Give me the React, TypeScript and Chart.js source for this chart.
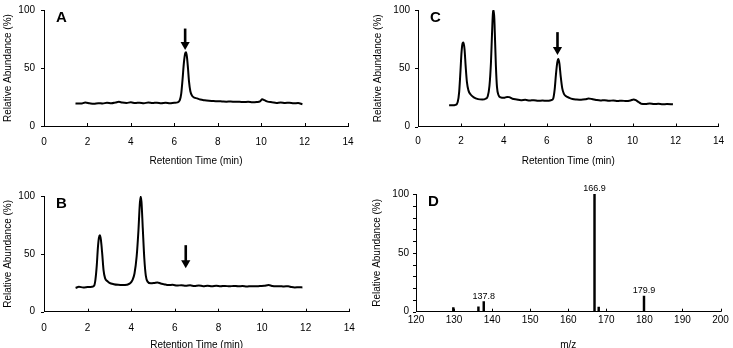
import React, { useEffect, useRef } from "react";
import { Chart, registerables } from "chart.js";

Chart.register(...registerables);

const FONT = "'Liberation Sans', Arial, Helvetica, sans-serif";

// ---- Chromatogram A ----
const timeA = [1.45, 1.7, 1.9, 2.1, 2.3, 2.5, 2.7, 2.9, 3.1, 3.3, 3.45, 3.6, 3.8, 4.0, 4.2, 4.4, 4.6, 4.8, 5.0, 5.2, 5.4, 5.6, 5.8, 6.0, 6.15, 6.25, 6.32, 6.38, 6.44, 6.5, 6.54, 6.58, 6.63, 6.68, 6.74, 6.82, 6.92, 7.05, 7.2, 7.4, 7.6, 7.8, 8.0, 8.2, 8.4, 8.6, 8.8, 9.0, 9.2, 9.4, 9.6, 9.8, 9.95, 10.05, 10.15, 10.3, 10.5, 10.7, 10.9, 11.1, 11.3, 11.5, 11.7, 11.9];
const abundA = [19.5, 19.3, 20.2, 19.6, 19.2, 19.7, 19.4, 20.0, 19.6, 20.3, 20.8, 20.2, 19.9, 20.4, 19.8, 20.1, 19.7, 20.2, 19.8, 20.1, 19.7, 20.0, 19.6, 20.1, 20.4, 22, 28, 40, 54, 62.5, 63.5, 60, 50, 38, 30, 26, 24.5, 23.8, 22.8, 22.2, 21.8, 21.5, 21.4, 21.2, 21.0, 21.1, 20.8, 20.9, 20.6, 20.8, 20.4, 20.7, 21.3, 23, 22.3, 21, 20.5, 19.8, 20.3, 19.9, 20.1, 19.6, 19.8, 18.8];

// ---- Chromatogram B ----
const timeB = [1.45, 1.6, 1.8, 2.0, 2.2, 2.3, 2.36, 2.42, 2.47, 2.52, 2.56, 2.61, 2.67, 2.73, 2.8, 2.9, 3.0, 3.2, 3.4, 3.6, 3.8, 3.95, 4.05, 4.15, 4.25, 4.33, 4.39, 4.43, 4.47, 4.53, 4.6, 4.67, 4.75, 4.9, 5.05, 5.2, 5.35, 5.5, 5.7, 5.9, 6.1, 6.3, 6.5, 6.7, 6.9, 7.1, 7.3, 7.5, 7.7, 7.9, 8.1, 8.3, 8.5, 8.7, 8.9, 9.1, 9.3, 9.5, 9.7, 9.9, 10.1, 10.3, 10.45, 10.6, 10.8, 11.0, 11.2, 11.35, 11.5, 11.7, 11.85];
const abundB = [20.5, 21.5, 21.0, 21.3, 21.6, 22.5, 28, 40, 55, 64, 66, 62, 50, 36, 29, 26.5, 25, 23.8, 23.2, 23.0, 23.3, 24.5, 27, 33, 48, 70, 92, 99.5, 95, 72, 46, 31, 26, 24.5, 24.8, 25.3, 24.4, 23.8, 23.0, 23.2, 22.6, 22.9, 22.4, 22.8, 22.2, 22.6, 22.1, 22.5, 22.0, 22.4, 22.0, 22.3, 21.9, 22.3, 22.0, 22.2, 21.8, 22.1, 21.9, 22.2, 22.4, 23.0, 22.3, 21.9, 22.1, 21.8, 22.0, 21.3, 21.0, 21.2, 21.0];

// ---- Chromatogram C ----
const timeC = [1.45, 1.6, 1.75, 1.85, 1.92, 1.98, 2.03, 2.08, 2.12, 2.17, 2.22, 2.28, 2.35, 2.45, 2.6, 2.8, 3.0, 3.15, 3.25, 3.33, 3.4, 3.45, 3.5, 3.54, 3.58, 3.63, 3.68, 3.75, 3.85, 4.0, 4.15, 4.25, 4.4, 4.6, 4.8, 5.0, 5.2, 5.4, 5.6, 5.8, 6.0, 6.2, 6.3, 6.37, 6.43, 6.49, 6.54, 6.59, 6.65, 6.72, 6.8, 6.9, 7.05, 7.2, 7.4, 7.6, 7.8, 7.95, 8.1, 8.3, 8.5, 8.7, 8.9, 9.1, 9.3, 9.5, 9.7, 9.9, 10.05, 10.15, 10.28, 10.4, 10.6, 10.8, 11.0, 11.2, 11.4, 11.6, 11.88];
const abundC = [18.3, 18.2, 18.6, 21, 30, 48, 64, 71.5, 72, 66, 52, 38, 31, 27.5, 25, 23.5, 23.2, 23.8, 26, 35, 55, 80, 99, 99.5, 80, 52, 34, 27, 25, 24.6, 25.4, 25.2, 23.8, 23.2, 22.6, 22.9, 22.3, 22.6, 22.0, 22.3, 22.1, 22.6, 24, 32, 45, 55, 58, 54, 43, 33, 28, 26, 24.6, 23.6, 23.2, 23.0, 23.4, 24.0, 23.6, 22.8, 22.3, 22.6, 22.0, 22.4, 21.9, 22.2, 21.8, 22.3, 23.2, 22.6, 21, 19.6, 19.4, 19.7, 19.3, 19.5, 19.1, 19.3, 19.0];

// ---- Mass spectrum D ----
const mzD = [129.8, 136.4, 137.8, 166.9, 168.0, 179.9];
const intensityD = [3.5, 4.2, 8.5, 100, 4, 13.2];
const labelledMzD = [137.8, 166.9, 179.9];

// ---- Arrows marking the analyte peak (time, top, tip) ----
const arrowTime = 6.5;
const arrowA = [84, 65.5];
const arrowB = [57.5, 37.5];
const arrowC = [81, 61.4];

const timeTicks = { min: 0, max: 14, step: 2 };
const mzTicks = { min: 120, max: 200, step: 10 };

type Frame = {
  yWidth: number;
  xHeight: number;
  padTop: number;
  padRight: number;
  xLabelPad: number;
  xTitlePad: number;
  yLabelPad: number;
  yTitlePad: number;
};

const tickMarks = {
  id: "tickMarks",
  afterDraw(chart: any) {
    const { ctx } = chart;
    const x = chart.scales.x;
    const y = chart.scales.y;
    ctx.save();
    ctx.strokeStyle = "#000";
    ctx.lineWidth = 1;
    ctx.beginPath();
    for (const t of x.ticks) {
      const px = Math.round(x.getPixelForValue(t.value)) + 0.5;
      ctx.moveTo(px, y.bottom);
      ctx.lineTo(px, y.bottom - 3);
    }
    for (const t of y.ticks) {
      const py = Math.round(y.getPixelForValue(t.value)) + 0.5;
      ctx.moveTo(x.left, py);
      ctx.lineTo(x.left - 3, py);
    }
    ctx.stroke();
    ctx.restore();
  },
};

function letterPlugin(letter: string) {
  return {
    id: "panelLetter",
    afterDraw(chart: any) {
      const { ctx, chartArea } = chart;
      ctx.save();
      ctx.fillStyle = "#000";
      ctx.font = `bold 15px ${FONT}`;
      ctx.textAlign = "left";
      ctx.textBaseline = "alphabetic";
      ctx.fillText(letter, chartArea.left + 12, chartArea.top + 12);
      ctx.restore();
    },
  };
}

function arrowPlugin(time: number, span: number[]) {
  return {
    id: "peakArrow",
    afterDraw(chart: any) {
      const { ctx } = chart;
      const x = chart.scales.x.getPixelForValue(time);
      const yTop = chart.scales.y.getPixelForValue(span[0]);
      const yTip = chart.scales.y.getPixelForValue(span[1]);
      const head = 8;
      ctx.save();
      ctx.fillStyle = "#000";
      ctx.fillRect(x - 1.3, yTop, 2.6, yTip - head - yTop + 1);
      ctx.beginPath();
      ctx.moveTo(x - 4.6, yTip - head);
      ctx.lineTo(x + 4.6, yTip - head);
      ctx.lineTo(x, yTip);
      ctx.closePath();
      ctx.fill();
      ctx.restore();
    },
  };
}

const stickLabels = {
  id: "stickLabels",
  afterDraw(chart: any) {
    const { ctx } = chart;
    ctx.save();
    ctx.fillStyle = "#000";
    ctx.font = `9px ${FONT}`;
    ctx.textAlign = "center";
    ctx.textBaseline = "bottom";
    labelledMzD.forEach((mz) => {
      const i = mzD.indexOf(mz);
      const px = chart.scales.x.getPixelForValue(mz);
      const py = chart.scales.y.getPixelForValue(intensityD[i]);
      ctx.fillText(mz.toFixed(1), px, py - 1);
    });
    ctx.restore();
  },
};

function scales(
  f: Frame,
  xr: { min: number; max: number; step: number },
  xTitle: string,
  yStep: number
) {
  return {
    x: {
      type: "linear",
      offset: false,
      min: xr.min,
      max: xr.max,
      ticks: {
        stepSize: xr.step,
        padding: f.xLabelPad,
        color: "#000",
        font: { size: 10, family: FONT },
        maxRotation: 0,
        autoSkip: false,
      },
      grid: { display: false, drawTicks: false, offset: false },
      border: { display: true, color: "#000", width: 1 },
      title: {
        display: true,
        text: xTitle,
        color: "#000",
        font: { size: 10, family: FONT },
        padding: { top: 0, bottom: f.xTitlePad },
      },
      afterFit: (s: any) => {
        s.height = f.xHeight;
      },
    },
    y: {
      type: "linear",
      min: 0,
      max: 100,
      ticks: {
        stepSize: yStep,
        padding: f.yLabelPad,
        color: "#000",
        font: { size: 10, family: FONT },
        autoSkip: false,
        callback: (v: number) => (v % 50 === 0 ? String(v) : ""),
      },
      grid: { display: false, drawTicks: false },
      border: { display: true, color: "#000", width: 1 },
      title: {
        display: true,
        text: "Relative Abundance (%)",
        color: "#000",
        font: { size: 10, family: FONT },
        padding: { top: f.yTitlePad, bottom: 0 },
      },
      afterFit: (s: any) => {
        s.width = f.yWidth;
      },
    },
  };
}

function chromatogram(
  letter: string,
  times: number[],
  abund: number[],
  arrow: number[],
  f: Frame
) {
  return {
    type: "line",
    data: {
      datasets: [
        {
          data: times.map((t, i) => ({ x: t, y: abund[i] })),
          borderColor: "#000",
          borderWidth: 2,
          pointRadius: 0,
          cubicInterpolationMode: "monotone",
          fill: false,
        },
      ],
    },
    options: {
      responsive: false,
      animation: false,
      layout: { padding: { top: f.padTop, right: f.padRight, bottom: 0, left: 0 } },
      plugins: { legend: { display: false }, tooltip: { enabled: false } },
      scales: scales(f, timeTicks, "Retention Time (min)", 50),
    },
    plugins: [tickMarks, letterPlugin(letter), arrowPlugin(arrowTime, arrow)],
  };
}

function spectrum(f: Frame) {
  return {
    type: "bar",
    data: {
      datasets: [
        {
          data: mzD.map((m, i) => ({ x: m, y: intensityD[i] })),
          backgroundColor: "#000",
          borderWidth: 0,
          barThickness: 1.8,
        },
      ],
    },
    options: {
      responsive: false,
      animation: false,
      layout: { padding: { top: f.padTop, right: f.padRight, bottom: 0, left: 0 } },
      plugins: { legend: { display: false }, tooltip: { enabled: false } },
      scales: scales(f, mzTicks, "m/z", 10),
    },
    plugins: [tickMarks, letterPlugin("D"), stickLabels],
  };
}

type Box = { left: number; top: number; width: number; height: number };

function Panel({ box, build }: { box: Box; build: () => any }) {
  const ref = useRef<HTMLCanvasElement>(null);
  useEffect(() => {
    const chart = new Chart(ref.current as HTMLCanvasElement, build());
    return () => chart.destroy();
  }, []);
  return (
    <div style={{ position: "absolute", left: box.left, top: box.top, width: box.width, height: box.height }}>
      <canvas ref={ref} width={box.width} height={box.height} style={{ display: "block" }} />
    </div>
  );
}

const frameA: Frame = { yWidth: 44, xHeight: 48, padTop: 20, padRight: 18, xLabelPad: 10, xTitlePad: 7, yLabelPad: 9, yTitlePad: 2.5 };
const frameC: Frame = { yWidth: 52, xHeight: 47.5, padTop: 20, padRight: 10, xLabelPad: 9, xTitlePad: 7, yLabelPad: 8, yTitlePad: 6.3 };
const frameB: Frame = { yWidth: 44, xHeight: 46.3, padTop: 22, padRight: 16.7, xLabelPad: 10.3, xTitlePad: 6.3, yLabelPad: 9, yTitlePad: 2.3 };
const frameD: Frame = { yWidth: 50, xHeight: 46.3, padTop: 20, padRight: 12.5, xLabelPad: 3, xTitlePad: 6.3, yLabelPad: 7, yTitlePad: 5.3 };

export default function App() {
  return (
    <div
      style={{
        position: "absolute",
        left: 0,
        top: 0,
        width: 733,
        height: 348,
        overflow: "hidden",
        background: "#fff",
      }}
    >
      <Panel box={{ left: 0, top: -10, width: 366, height: 184 }} build={() => chromatogram("A", timeA, abundA, arrowA, frameA)} />
      <Panel box={{ left: 366, top: -10, width: 367, height: 184 }} build={() => chromatogram("C", timeC, abundC, arrowC, frameC)} />
      <Panel box={{ left: 0, top: 174, width: 366, height: 184 }} build={() => chromatogram("B", timeB, abundB, arrowB, frameB)} />
      <Panel box={{ left: 366, top: 174, width: 367, height: 184 }} build={() => spectrum(frameD)} />
    </div>
  );
}
